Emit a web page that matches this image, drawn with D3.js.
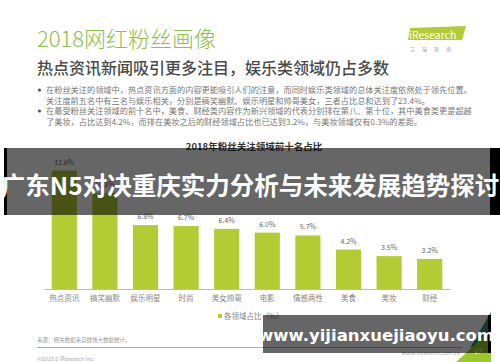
<!DOCTYPE html>
<meta charset="utf-8">
<script src="https://d3js.org/d3.v7.min.js"></script>
<style>
body { margin: 0; background: #fff; }
svg { font-family: "Noto Sans CJK SC", "Noto Sans", sans-serif; }
</style>
<div id="my_dataviz"></div>
<script>
var categories = ["热点资讯", "搞笑幽默", "娱乐明星", "时尚", "美女帅哥", "电影", "情感两性", "美食", "美妆", "财经"];
var shares = [12.6, 10.2, 6.8, 6.7, 6.4, 6.0, 5.7, 4.2, 3.5, 3.2];
var bullets = [
  ["在粉丝关注的领域中，热点资讯方面的内容更能吸引人们的注意，而同时娱乐类领域的总体关注度依然处于领先位置。",
   "关注度前五名中有三名与娱乐相关，分别是搞笑幽默、娱乐明星和帅哥美女，三者占比总和达到了23.4%。"],
  ["在最受粉丝关注领域的前十名中，美食、财经类内容作为新兴领域的代表分别排在第八、第十位，其中美食类更是超越",
   "了美妆，占比达到4.2%，而排在美妆之后的财经领域占比也已达到3.2%，与美妆领域仅有0.3%的差距。"]
];

var width = 500, height = 362;
var green = "#b3cc33";
var svg = d3.select("#my_dataviz")
  .append("svg")
    .attr("width", width)
    .attr("height", height);

// header
svg.append("text")
    .attr("x", 37).attr("y", 47)
    .style("font-size", "22px")
    .style("font-weight", 300)
    .style("fill", "#8fc04a")
    .text("2018网红粉丝画像");
svg.append("text")
    .attr("x", 37).attr("y", 74)
    .style("font-size", "16px")
    .style("font-weight", 500)
    .style("fill", "#4a4a4a")
    .text("热点资讯新闻吸引更多注目，娱乐类领域仍占多数");

// logo
svg.append("path")
    .attr("d", "M410,28 L466,26 L462,40 L408,40 Z")
    .style("fill", green);
svg.append("text")
    .attr("x", 409).attr("y", 38.5)
    .style("font-size", "10.5px")
    .style("fill", "#fff")
    .text("iResearch");
svg.append("text")
    .attr("x", 434).attr("y", 51)
    .attr("text-anchor", "middle")
    .style("font-size", "5px")
    .style("fill", "#999")
    .style("letter-spacing", "7px")
    .text("艾瑞咨询");

// bullets
var lineY = [93, 103.5, 114, 124.5];
bullets.forEach(function(b, i) {
  svg.append("circle")
      .attr("cx", 39.5).attr("cy", lineY[i * 2] - 3)
      .attr("r", 1.6)
      .style("fill", "#555");
  b.forEach(function(t, j) {
    svg.append("text")
        .attr("x", 46).attr("y", lineY[i * 2 + j])
        .style("font-size", "8.2px")
        .style("fill", "#777")
        .text(t);
  });
});

// chart
svg.append("text")
    .attr("x", 254).attr("y", 150)
    .attr("text-anchor", "middle")
    .style("font-size", "9.5px")
    .style("font-weight", "bold")
    .style("fill", "#333")
    .text("2018年粉丝关注领域前十名占比");

var x = d3.scaleBand()
    .domain(categories)
    .range([44, 450])
    .paddingInner(0.38)
    .paddingOuter(0.19);
var y = d3.scaleLinear()
    .domain([0, 12.6])
    .range([289, 170.6]);

svg.append("g")
  .selectAll("rect")
  .data(shares)
  .enter()
  .append("rect")
    .attr("x", function(d, i) { return x(categories[i]); })
    .attr("y", function(d) { return y(d); })
    .attr("width", x.bandwidth())
    .attr("height", function(d) { return y(0) - y(d); })
    .style("fill", green);

svg.append("g")
  .selectAll("text")
  .data(shares)
  .enter()
  .append("text")
    .attr("x", function(d, i) { return x(categories[i]) + x.bandwidth() / 2; })
    .attr("y", function(d) { return y(d) - 6; })
    .attr("text-anchor", "middle")
    .style("font-size", "7px")
    .style("fill", "#666")
    .text(function(d) { return d.toFixed(1) + "%"; });

var xAxis = svg.append("g")
    .attr("transform", "translate(0,289)")
    .call(d3.axisBottom(x).tickSize(0).tickPadding(7));
xAxis.select(".domain").attr("stroke", "#bbb");
xAxis.selectAll("text")
    .style("font-family", "Noto Sans CJK SC")
    .style("font-size", "7.5px")
    .style("fill", "#888");

// legend
svg.append("rect")
    .attr("x", 218).attr("y", 314)
    .attr("width", 4).attr("height", 4)
    .style("fill", green);
svg.append("text")
    .attr("x", 224).attr("y", 318.5)
    .style("font-size", "7.5px")
    .style("fill", "#888")
    .text("各领域占比（%）");

// footer
svg.append("text")
    .attr("x", 37).attr("y", 342)
    .style("font-size", "5.5px")
    .style("fill", "#999")
    .text("来源：相关数据来自微博大数据统计。");
svg.append("line")
    .attr("x1", 37).attr("x2", 462)
    .attr("y1", 347.5).attr("y2", 347.5)
    .attr("stroke", "#aaa");
svg.append("text")
    .attr("x", 37).attr("y", 360.5)
    .style("font-size", "5.5px")
    .style("fill", "#aaa")
    .text("©2018.6 iResearch Inc");
svg.append("text")
    .attr("x", 460).attr("y", 355)
    .attr("text-anchor", "end")
    .style("font-size", "5.5px")
    .style("fill", "#aaa")
    .text("www.iresearch.com.cn");
svg.append("path")
    .attr("d", "M491,312 L491,338 L470,348 Z")
    .style("fill", "#2e8c8c");
svg.append("path")
    .attr("d", "M491,330 L491,362 L456,362 Z")
    .style("fill", "#9cc92a");
svg.append("text")
    .attr("x", 478).attr("y", 354)
    .attr("text-anchor", "middle")
    .style("font-size", "7px")
    .style("fill", "#fff")
    .text("17");

// overlay bands
svg.append("rect")
    .attr("x", 4).attr("y", 148)
    .attr("width", 496).attr("height", 67)
    .style("fill", "#000").style("opacity", 0.6);
svg.append("rect")
    .attr("x", 4).attr("y", 148).attr("width", 3).attr("height", 67)
    .style("fill", "#000");
svg.append("rect")
    .attr("x", 490).attr("y", 148).attr("width", 10).attr("height", 67)
    .style("fill", "#000");
svg.append("text")
    .attr("x", 250).attr("y", 195)
    .attr("text-anchor", "middle")
    .style("font-size", "24.5px")
    .style("font-weight", "bold")
    .style("fill", "#fff")
    .text("广东N5对决重庆实力分析与未来发展趋势探讨");

svg.append("rect")
    .attr("x", 263).attr("y", 315)
    .attr("width", 228).attr("height", 38)
    .style("fill", "#000").style("opacity", 0.6);
svg.append("rect")
    .attr("x", 488).attr("y", 315).attr("width", 3).attr("height", 38)
    .style("fill", "#000");
svg.append("text")
    .attr("x", 376).attr("y", 341)
    .attr("text-anchor", "middle")
    .style("font-family", "DejaVu Sans, sans-serif")
    .style("font-size", "16.5px")
    .style("font-weight", "bold")
    .style("fill", "#fff")
    .text("www.yijianxuejiaoyu.com");
</script>
